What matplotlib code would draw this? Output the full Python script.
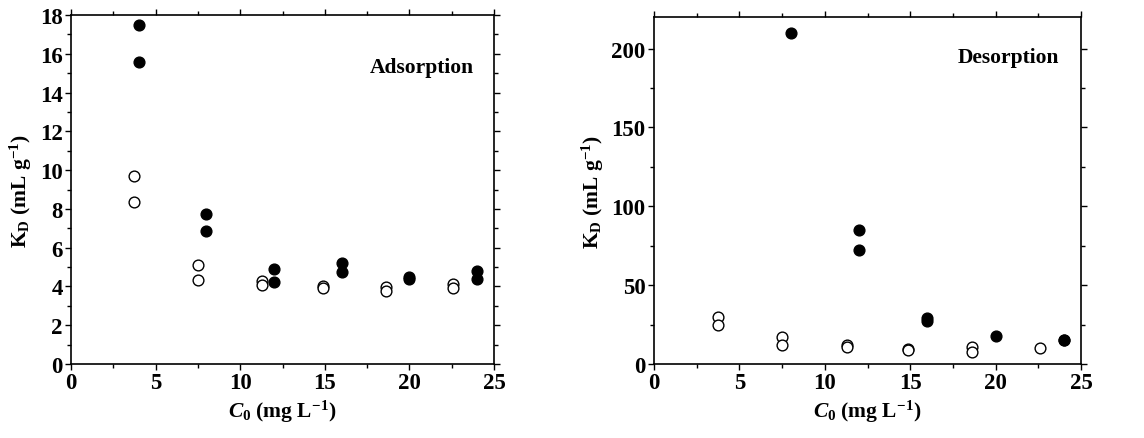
import matplotlib
matplotlib.use("Agg")
import matplotlib.pyplot as plt
from matplotlib.ticker import MultipleLocator

plt.rcParams['font.family'] = 'Liberation Serif'
plt.rcParams['font.weight'] = 'bold'
plt.rcParams['axes.labelweight'] = 'bold'
plt.rcParams['mathtext.fontset'] = 'custom'
plt.rcParams['mathtext.rm'] = 'Liberation Serif:bold'
plt.rcParams['mathtext.it'] = 'Liberation Serif:italic:bold'
plt.rcParams['mathtext.bf'] = 'Liberation Serif:bold'

# Adsorption K_D
ads_open_x = [3.75, 3.75, 7.5, 7.5, 11.3, 11.3, 14.9, 14.9, 18.6, 18.6, 22.6, 22.6]
ads_open_y = [9.7, 8.35, 5.1, 4.35, 4.3, 4.1, 4.0, 3.9, 3.95, 3.75, 4.15, 3.9]
ads_fill_x = [4, 4, 8, 8, 12, 12, 16, 16, 20, 20, 24, 24]
ads_fill_y = [17.5, 15.6, 7.75, 6.85, 4.9, 4.25, 5.2, 4.75, 4.5, 4.4, 4.8, 4.4]

# Desorption K_D
des_open_x = [3.75, 3.75, 7.5, 7.5, 11.3, 11.3, 14.9, 14.9, 18.6, 18.6, 22.6]
des_open_y = [30, 25, 17, 12, 12, 11, 9.5, 9, 10.5, 7.5, 10]
des_fill_x = [8, 12, 12, 16, 16, 20, 24, 24]
des_fill_y = [210, 85, 72.5, 29, 27, 17.5, 15.5, 15.5]

fig = plt.figure(figsize=(11.44, 4.39), dpi=100)
ax1 = fig.add_axes([71/1144, 1-365/439, 423/1144, 349/439])
ax2 = fig.add_axes([654/1144, 1-365/439, 427/1144, 347/439])


def style(ax, ymax, ymajor, yminor, label, ly):
    ax.set_xlim(0, 25)
    ax.set_ylim(0, ymax)
    ax.xaxis.set_major_locator(MultipleLocator(5))
    ax.xaxis.set_minor_locator(MultipleLocator(2.5))
    ax.yaxis.set_major_locator(MultipleLocator(ymajor))
    ax.yaxis.set_minor_locator(MultipleLocator(yminor))
    ax.tick_params(which='both', direction='out', top=True, right=True,
                   labelsize=16.5, width=1, pad=2)
    ax.tick_params(which='major', length=4)
    ax.tick_params(which='minor', length=3)
    for s in ax.spines.values():
        s.set_linewidth(1.2)
    ax.set_xlabel(r'$\mathit{C}_{0}$ (mg L$^{\mathbf{-1}}$)', fontsize=15.5, labelpad=3)
    ax.set_ylabel(r'K$_{\mathrm{D}}$ (mL g$^{\mathbf{-1}}$)', fontsize=15.5, labelpad=4)
    ax.text(0.83, ly, label, transform=ax.transAxes,
            ha='center', va='center', fontsize=15.5, fontweight='bold')


for ax, ox, oy, fx, fy in [(ax1, ads_open_x, ads_open_y, ads_fill_x, ads_fill_y),
                           (ax2, des_open_x, des_open_y, des_fill_x, des_fill_y)]:
    ax.scatter(ox, oy, s=60, facecolors='white', edgecolors='black', linewidths=1, zorder=3)
    ax.scatter(fx, fy, s=60, facecolors='black', edgecolors='black', linewidths=1, zorder=3)

style(ax1, 18, 2, 1, 'Adsorption', 0.85)
style(ax2, 220, 50, 25, 'Desorption', 0.885)

fig.savefig('out.png', dpi=100)
